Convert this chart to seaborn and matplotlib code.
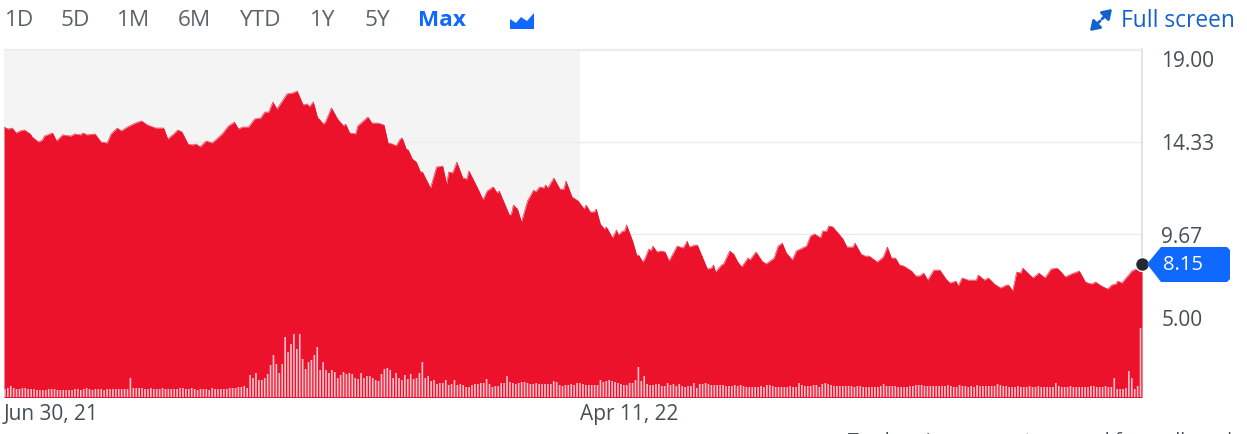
import matplotlib
matplotlib.use("Agg")
import numpy as np
import pandas as pd
import seaborn as sns
import matplotlib.pyplot as plt
from matplotlib.patches import Polygon
from matplotlib.transforms import ScaledTranslation

# ---- data ----
price_days = [0,2,4,6,8,10,13,14,17,19,20,24,26,29,33,35,38,39,41,45,48,51,53,56,58,61,64,65,68,71,75,79,81,84,86,88,91,93,95,
 97,100,103,108,111,114,116,118,121,124,127,129,131,133,135,138,140,143,145,148,150,151,153,154,155,158,159,162,165,168,169,171,174,175,180,182,185,188,190,192,194,196,
 197,199,200,202,204,206,207,209,211,214,217,219,220,222,224,227,229,230,234,237,239,242,244,245,250,251,252,254,256,259,262,263,265,267,268,269,272,275,277,278,281,284,287,288,290,292,293,
 295,297,298,301,303,304,306,307,308,311,313,314,316,317,319,320,321,323,325,327,329,333,336,338,339,342,343,348,350,351,352,355,356,359,361,363,365,368,369,372,375,377,
 379,381,383,385,387,388,390,392,397,399,401,404,405,407,408,410,413,415,417,420,421,424,426,428,432,435,437,439,441,443,445,449,451,453,455,457,460,463,466,468,471,472,474,477,
 481,482,485,487,490,493,496,497,499,501,503,504,506,509,512,515,518,521,523,525,528,532,535,538,540,543,546,548,550,551,553,558,561,563]
price = [15.10,15.00,15.05,14.80,14.90,14.95,14.75,14.59,14.34,14.44,14.64,14.80,14.39,14.70,14.64,14.75,14.70,14.80,14.70,14.75,14.34,14.29,14.75,15.05,14.90,15.10,15.25,15.30,15.41,15.20,15.05,15.05,14.49,14.75,14.95,14.85,14.24,14.19,14.24,
 14.09,14.39,14.29,14.75,15.15,15.35,15.00,15.10,15.10,15.51,15.56,15.86,15.86,16.37,16.01,16.47,16.78,16.83,16.93,16.22,16.27,16.12,16.37,16.01,15.61,15.25,15.35,16.07,15.51,15.15,15.25,14.80,14.75,15.15,15.61,15.30,15.30,15.20,14.29,14.24,14.14,14.49,
 14.54,13.98,13.93,13.48,13.32,12.82,12.82,12.41,12.00,13.07,13.12,12.21,12.82,12.77,13.32,12.51,12.46,12.87,12.06,11.40,11.85,12.06,11.75,11.85,10.63,10.68,11.14,10.94,10.28,11.35,11.90,11.80,12.06,12.00,12.16,12.00,12.51,11.95,11.95,12.36,11.55,11.35,10.94,11.14,10.79,10.79,10.94,
 10.18,9.92,10.03,9.47,9.87,9.62,9.82,9.82,10.13,9.31,8.60,8.60,8.25,8.40,8.91,8.81,9.06,8.76,8.81,8.76,8.30,9.06,8.96,9.31,9.01,9.11,9.11,7.89,7.94,8.10,7.74,8.10,8.15,8.81,8.65,8.25,8.00,8.45,8.35,8.76,8.30,8.15,
 8.30,8.45,9.06,9.21,8.71,8.60,8.35,8.81,9.06,9.57,9.67,9.47,9.82,9.82,10.08,10.03,9.67,9.42,9.01,9.01,9.21,8.65,8.55,8.55,8.25,8.50,9.01,8.45,8.45,8.10,8.05,7.79,7.54,7.54,7.69,7.33,7.84,7.84,7.39,7.18,7.28,7.03,7.44,7.33,
 7.33,7.59,7.33,7.44,7.13,6.93,7.08,7.08,6.78,7.74,7.69,7.94,7.74,7.44,7.69,7.44,7.89,7.94,7.74,7.49,7.64,7.79,7.23,7.13,7.23,7.03,6.88,7.08,7.13,7.28,7.18,7.79,7.94,8.15]

volume = [8,9,11,9,8,8,9,9,8,8,8,7,7,7,7,8,8,8,7,7,7,7,7,7,8,8,7,8,9,8,7,8,8,8,7,8,8,8,8,8,8,8,8,
 19,
 9,9,9,9,8,8,9,8,8,8,9,8,8,8,8,8,9,9,8,8,9,8,7,8,8,8,7,9,8,8,8,8,8,9,9,9,10,10,11,9,
 22,19,24,17,17,19,23,32,42,33,24,33,60,45,53,63,48,63,38,28,35,37,42,50,27,35,27,24,27,25,19,22,25,23,24,23,19,18,24,19,21,21,19,17,16,23,28,29,27,19,24,19,17,22,18,23,18,19,24,35,19,21,16,17,13,14,14,17,12,13,17,12,13,12,10,10,12,13,13,14,14,18,13,10,11,11,
 14,14,21,15,14,13,14,15,15,14,13,13,14,13,13,13,13,13,16,15,12,11,12,12,13,12,14,14,13,12,12,12,12,12,17,15,16,17,16,15,14,13,12,12,14,14,17,30,16,21,13,12,12,13,13,11,11,14,12,13,11,13,11,10,11,11,14,9,13,13,14,13,12,12,12,12,12,11,11,11,12,11,12,11,10,10,10,10,10,11,10,12,12,11,10,10,10,10,10,11,10,10,14,12,11,11,11,12,12,10,13,14,13,12,11,11,11,11,11,11,11,10,11,11,10,10,10,10,10,10,11,13,11,11,11,11,10,10,10,10,11,11,12,12,12,11,11,11,11,11,11,11,11,12,11,10,10,12,11,11,10,11,10,12,11,11,11,11,11,11,13,12,11,11,10,10,10,11,10,10,10,11,10,10,11,10,10,10,10,10,14,11,10,10,10,11,10,10,10,10,10,10,11,11,
 10,10,10,11,10,10,
 19,8,8,8,9,26,19,8,11,69]
sessions = list(range(len(volume)))

y_ticks = [19.00, 14.33, 9.67, 5.00]
y_labels = ["19.00", "14.33", "9.67", "5.00"]
last_price = 8.15
x_ticks = [0, 285]
x_labels = ["Jun 30, 21", "Apr 11, 22"]
ranges = ["1D", "5D", "1M", "6M", "YTD", "1Y", "5Y", "Max"]
range_x = [5, 60, 117, 178, 240, 310, 364, 418]

# ---- style ----
W, H = 1247, 435
RED = "#EC122C"
PINK = "#FFC4CE"
GRID = "#ECECEC"
BLUE = "#0F69FF"
TXT = "#464E56"
sns.set_theme(style="white")
plt.rcParams["font.family"] = ["Open Sans", "DejaVu Sans"]

fig = plt.figure(figsize=(W / 100, H / 100), dpi=100, facecolor="white")
L, R, T, B = 4, 1142, 50, 398
rect = [L / W, 1 - B / H, (R - L) / W, (B - T) / H]

ax = fig.add_axes(rect)
df = pd.DataFrame({"day": price_days, "price": price})
ax.axvspan(0, 285, color="#F4F4F4", zorder=0, lw=0)
ax.fill_between(df["day"], df["price"], 0, color=RED, lw=0, zorder=3)
sns.lineplot(data=df, x="day", y="price", ax=ax, color=RED, lw=0.4, zorder=3, errorbar=None, sort=False)
ax.set_xlim(0, 563)
ax.set_ylim(1.396, 19.06)
ax.set(xlabel="", ylabel="")

ax.set_xticks(x_ticks)
ax.set_xticklabels(x_labels, ha="left", fontsize=15, color=TXT)
ax.yaxis.tick_right()
ax.set_yticks(y_ticks)
ax.set_yticklabels(y_labels, fontsize=15, color=TXT)
ax.tick_params(axis="both", length=0)
ax.tick_params(axis="x", pad=4)
ax.tick_params(axis="y", pad=14)
ax.grid(axis="y", color=GRID, lw=1)
ax.set_axisbelow(True)
for side in ["left", "bottom"]:
    ax.spines[side].set_visible(False)
ax.spines["top"].set_color("#EDEDED")
ax.spines["top"].set_linewidth(1)
ax.spines["right"].set_color("#DDDDDD")
ax.spines["right"].set_linewidth(1.2)
ax.spines["right"].set_zorder(1)
ax.spines["top"].set_zorder(1)
# 19.00 and 5.00 labels sit off their gridlines (shifts in pixels)
for lab, dy in zip(ax.get_yticklabels(), [-8, 1, 0, 9]):
    lab.set_transform(lab.get_transform() + ScaledTranslation(0, dy / 100, fig.dpi_scale_trans))

# volume bars
ax_v = fig.add_axes(rect)
ax_v.patch.set_alpha(0)
sns.barplot(x=sessions, y=volume, native_scale=True, color=PINK, saturation=1, width=0.55,
            errorbar=None, ax=ax_v, linewidth=0)
for bar in ax_v.patches:
    bar.set_snap(False)
ax_v.set_xlim(-0.3, 389.5)
ax_v.set_ylim(0, B - T)
ax_v.axis("off")

# last price marker
ax_m = fig.add_axes(rect, sharex=ax, sharey=ax)
ax_m.patch.set_alpha(0)
ax_m.axis("off")
ax_m.plot([563], [last_price], "o", ms=10, mfc="#232A31", mec="white", mew=1, clip_on=False, zorder=10)

# page chrome on a pixel overlay
ov = fig.add_axes([0, 0, 1, 1])
ov.set_xlim(0, W)
ov.set_ylim(H, 0)
ov.axis("off")
ov.patch.set_alpha(0)
for r, x in zip(ranges, range_x):
    is_on = r == "Max"
    ov.text(x, 20, r, ha="left", va="center", fontsize=16.2, color=BLUE if is_on else "#5B636A",
            fontweight="bold" if is_on else "normal")
ov.add_patch(Polygon([(510, 20), (516, 24), (521, 18), (527, 22), (534, 14), (534, 30), (510, 30)],
                     closed=True, fc=BLUE, ec="none"))
ov.text(1121, 21, "Full screen", ha="left", va="center", fontsize=16.4, color="#1261CF")
head = "-|>,head_width=0.3,head_length=0.45"
ov.annotate("", xy=(1112, 10), xytext=(1102, 20), arrowprops=dict(arrowstyle=head, color="#1261CF", lw=2, shrinkA=0, shrinkB=0))
ov.annotate("", xy=(1090, 32), xytext=(1100, 22), arrowprops=dict(arrowstyle=head, color="#1261CF", lw=2, shrinkA=0, shrinkB=0))
ov.add_patch(Polygon([(1147, 265), (1161, 248), (1227, 248), (1230, 251), (1230, 280), (1227, 283), (1161, 283)],
                     closed=True, fc=BLUE, ec="none"))
ov.text(1163, 265, f"{last_price:.2f}", ha="left", va="center", fontsize=14.5, color="white")
ov.text(848, 446, "Trade prices are not sourced from all markets", ha="left", va="baseline",
        fontsize=14, color="#464E56", clip_on=False)

fig.savefig("out.png", dpi=100)
